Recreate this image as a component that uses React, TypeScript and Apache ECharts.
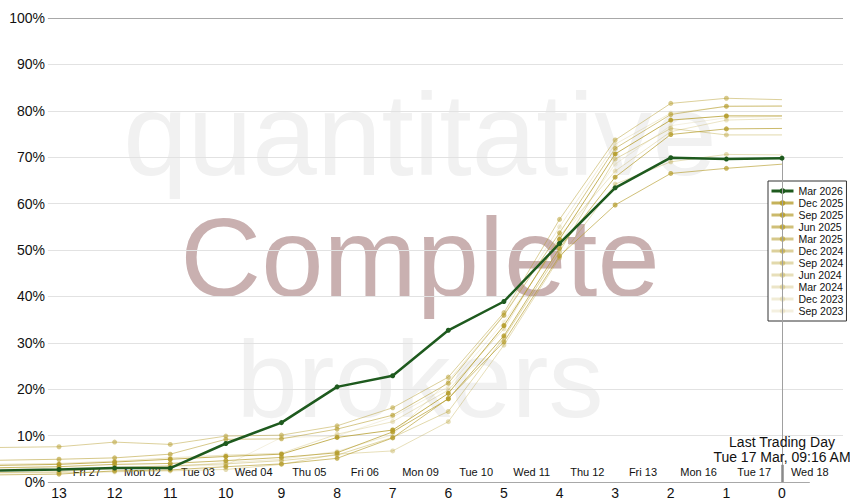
import React, { useEffect, useRef } from "react";
import * as echarts from "echarts";

// x = trading days to expiry (15 lies left of the plot, 0 = last trading day)
const days = [15, 13, 12, 11, 10, 9, 8, 7, 6, 5, 4, 3, 2, 1, 0];
const dayTicks = [13, 12, 11, 10, 9, 8, 7, 6, 5, 4, 3, 2, 1, 0];
const dateTickPos = [12.5, 11.5, 10.5, 9.5, 8.5, 7.5, 6.5, 5.5, 4.5, 3.5, 2.5, 1.5, 0.5, -0.5];
const dateLabels = ["Fri 27", "Mon 02", "Tue 03", "Wed 04", "Thu 05", "Fri 06", "Mon 09", "Tue 10", "Wed 11", "Thu 12", "Fri 13", "Mon 16", "Tue 17", "Wed 18"];
const yTicks = [10, 20, 30, 40, 50, 60, 70, 80, 90, 100];

const mar2026 = [2.3, 2.7, 3.0, 3.0, 8.3, 12.8, 20.5, 22.9, 32.7, 38.9, 51.4, 63.4, 69.9, 69.6, 69.8];
const dec2025 = [3.4, 3.8, 4.3, 4.9, 5.5, 6.0, 9.6, 11.2, 19.1, 33.7, 52.3, 70.7, 78.0, 78.9, 78.9];
const sep2025 = [2.9, 3.3, 3.8, 4.0, 4.6, 5.3, 6.3, 10.8, 17.9, 31.5, 50.4, 65.7, 74.9, 76.1, 76.2];
const jun2025 = [1.4, 1.7, 2.4, 2.6, 3.3, 3.9, 5.1, 9.5, 18.0, 30.2, 48.7, 59.7, 66.5, 67.6, 68.5];
const mar2025 = [4.5, 4.9, 5.2, 6.0, 9.2, 9.3, 11.4, 14.4, 21.3, 35.9, 53.7, 71.9, 79.2, 81.0, 81.0];
const dec2024 = [7.3, 7.6, 8.6, 8.1, 9.9, 10.1, 12.1, 16.0, 22.6, 36.5, 56.6, 73.7, 81.6, 82.7, 82.4];
const sep2024 = [1.9, 2.2, 3.1, 3.5, 3.9, 4.6, 5.8, 9.6, 15.2, 31.1, 49.6, 69.6, 76.2, 74.8, 74.8];
const jun2024 = [1.9, 2.0, 2.2, 2.4, 2.7, 3.8, 6.0, 6.7, 13.0, 29.5, 48.3, 64.2, 69.0, 70.6, 70.5];
const mar2024 = [3.7, 4.0, 4.5, 5.2, 5.8, 6.2, 10.3, 13.0, 19.8, 33.0, 53.0, 67.0, 75.5, 78.0, 78.3];
const dec2023 = [2.3, 2.6, 2.8, 3.3, 4.2, 4.9, 6.6, 10.2, 21.8, 36.0, 55.0, 72.8, 79.5, 80.9, 81.1];
const sep2023 = [2.9, 3.0, 3.2, 3.4, 3.6, 9.6, 9.9, 14.0, 20.5, 34.5, 51.5, 68.5, 76.8, 78.5, 78.8];

const goldNames = ["Dec 2025", "Sep 2025", "Jun 2025", "Mar 2025", "Dec 2024", "Sep 2024", "Jun 2024", "Mar 2024", "Dec 2023", "Sep 2023"];
const goldValues = [dec2025, sep2025, jun2025, mar2025, dec2024, sep2024, jun2024, mar2024, dec2023, sep2023];
const goldOpacity = [0.9, 0.8, 0.72, 0.62, 0.52, 0.42, 0.34, 0.26, 0.18, 0.12];

const FONT = "Liberation Sans";
const X_MAX = 14.061; // left edge of the page
const X_MIN = -1.097; // right edge of the plot
const GRID_LEFT_X = 13.2; // where gridlines begin

export default function App() {
  const ref = useRef<HTMLDivElement>(null);
  useEffect(() => {
    if (!ref.current) return;
    const chart = echarts.init(ref.current, undefined, { renderer: "svg" });
    const gold = "rgb(180,155,40)";
    const gridLines = yTicks.map((v) => [
      { coord: [GRID_LEFT_X, v], lineStyle: { color: v === 100 ? "#a8a8a8" : "#e2e2e2", width: 1, type: "solid" } },
      { coord: [X_MIN, v] },
    ]);
    const goldSeries = goldNames.map((name, i) => ({
      name,
      type: "line",
      z: 3,
      symbol: "circle",
      symbolSize: 5,
      data: days.map((d, j) =>
        d === 0 ? { value: [d, goldValues[i][j]], symbol: "none" } : [d, goldValues[i][j]]
      ),
      itemStyle: { color: gold, opacity: goldOpacity[i] },
      lineStyle: { color: gold, width: 1, opacity: Math.min(1, goldOpacity[i] * 0.8 + 0.05) },
      ...(i === goldNames.length - 1
        ? {
            markLine: {
              z: 1,
              silent: true,
              symbol: "none",
              label: { show: false },
              data: gridLines,
            },
          }
        : {}),
    }));
    const wm = (text: string, baseline: number, size: number, fill: string) => ({
      type: "text",
      z: -10,
      silent: true,
      style: {
        text,
        x: 420,
        y: baseline - size * 0.82,
        align: "center",
        verticalAlign: "top",
        font: `${size}px Liberation Sans`,
        fill,
      },
    });
    chart.setOption({
      animation: false,
      textStyle: { fontFamily: FONT },
      grid: { left: 0, right: 7, top: 18, bottom: 18 },
      xAxis: [
        {
          type: "value",
          inverse: true,
          min: X_MIN,
          max: X_MAX,
          axisLine: { show: false },
          axisTick: { show: false },
          splitLine: { show: false },
          axisLabel: {
            customValues: dayTicks,
            color: "#111",
            fontSize: 14,
            margin: 4,
            fontFamily: FONT,
          },
        },
        {
          type: "value",
          inverse: true,
          min: X_MIN,
          max: X_MAX,
          position: "bottom",
          axisLine: { show: false },
          axisTick: { show: false },
          splitLine: { show: false },
          axisLabel: {
            inside: true,
            customValues: dateTickPos,
            margin: 5,
            color: "#111",
            fontSize: 11,
            fontFamily: FONT,
            formatter: (v: number) => {
              const k = dateTickPos.findIndex((p) => Math.abs(p - v) < 1e-6);
              return k >= 0 ? dateLabels[k] : "";
            },
          },
        },
      ],
      yAxis: {
        type: "value",
        min: 0,
        max: 100,
        interval: 10,
        axisLine: { show: false },
        axisTick: { show: false },
        splitLine: { show: false },
        axisLabel: {
          inside: true,
          align: "right",
          margin: 45,
          formatter: "{value}%",
          color: "#111",
          fontSize: 14,
          fontFamily: FONT,
        },
      },
      legend: {
        orient: "vertical",
        left: 768,
        top: 181,
        width: 75,
        padding: [4, 3, 4, 2],
        backgroundColor: "#fff",
        borderColor: "#333",
        borderWidth: 1,
        itemWidth: 22,
        itemHeight: 7,
        itemGap: 0,
        align: "left",
        textStyle: { fontSize: 10.5, lineHeight: 12, color: "#111", fontFamily: FONT },
        lineStyle: { width: 3 },
        data: ["Mar 2026", ...goldNames],
      },
      graphic: [
        wm("quantitative", 172, 116, "#f1f1f1"),
        wm("Complete", 293, 112, "#c9b0b0"),
        wm("brokers", 414, 110, "#f1f1f1"),
        {
          type: "text",
          z: 10,
          style: {
            text: "Last Trading Day\nTue 17 Mar, 09:16 AM",
            x: 782,
            y: 449,
            align: "center",
            verticalAlign: "middle",
            font: "14px Liberation Sans",
            lineHeight: 15,
            fill: "#111",
          },
        },
      ],
      series: [
        ...goldSeries,
        {
          name: "Mar 2026",
          type: "line",
          z: 5,
          symbol: "circle",
          symbolSize: 5,
          data: days.map((d, j) => [d, mar2026[j]]),
          itemStyle: { color: "#1e5a1e" },
          lineStyle: { color: "#1e5a1e", width: 2.5 },
          markLine: {
            silent: true,
            symbol: "none",
            label: { show: false },
            data: [
              [
                { coord: [0, mar2026[mar2026.length - 1]], lineStyle: { color: "#a0a0a0", width: 1, type: "solid" } },
                { coord: [0, 0] },
              ],
              [
                { coord: [0, 3.7], lineStyle: { color: "#8a8a8a", width: 2.5, type: "solid" } },
                { coord: [0, 0] },
              ],
              [
                { coord: [GRID_LEFT_X, 0], lineStyle: { color: "#a8a8a8", width: 1, type: "solid" } },
                { coord: [-0.5, 0] },
              ],
            ],
          },
        },
      ],
    });
    return () => chart.dispose();
  }, []);
  return (
    <div
      ref={ref}
      style={{ position: "absolute", left: 0, top: 0, width: 850, height: 500 }}
    />
  );
}
